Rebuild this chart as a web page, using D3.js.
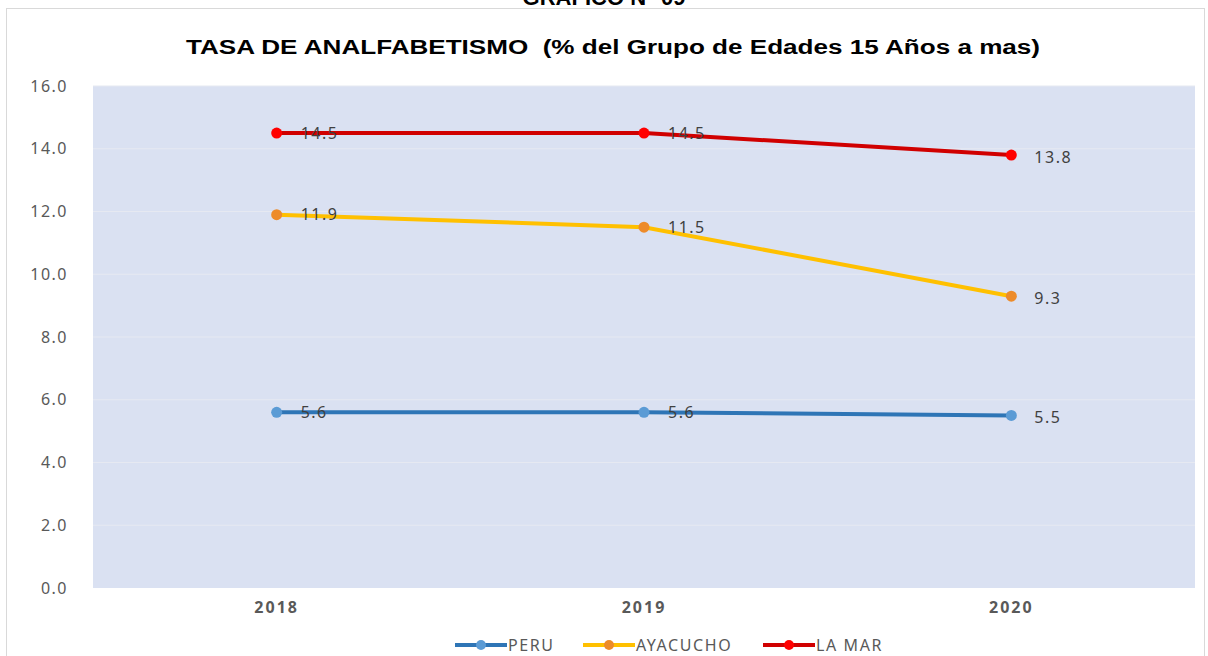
<!DOCTYPE html>
<html>
<head>
<meta charset="utf-8">
<script src="https://cdn.jsdelivr.net/npm/d3@7"></script>
<style>
  body { margin: 0; background: #fff; }
  svg { display: block; }
</style>
</head>
<body>
<div id="chart"></div>
<script>
var years = ["2018", "2019", "2020"];
var seriesNames = ["PERU", "AYACUCHO", "LA MAR"];
var peru = [5.6, 5.6, 5.5];
var ayacucho = [11.9, 11.5, 9.3];
var laMar = [14.5, 14.5, 13.8];
var yTicks = [0, 2, 4, 6, 8, 10, 12, 14, 16];

var lineColors = ["#2e75b6", "#ffc000", "#d00000"];
var dotColors = ["#5b9bd5", "#ed8b2a", "#ff0000"];

var fullwidth = 1208, fullheight = 656;
var margin = { top: 86, right: 13, bottom: 68, left: 93 };
var width = fullwidth - margin.left - margin.right;
var height = fullheight - margin.top - margin.bottom;

var root = d3.select("#chart").append("svg")
    .attr("width", fullwidth)
    .attr("height", fullheight);

// outer chart frame
root.append("rect")
    .attr("x", 6.5).attr("y", 8.5)
    .attr("width", 1198).attr("height", 670)
    .attr("fill", "#fff")
    .attr("stroke", "#d9d9d9");

// heading of the page, cut off at the top like in the source
root.append("text")
    .attr("x", 604).attr("y", 5)
    .attr("text-anchor", "middle")
    .style("font-family", "Liberation Sans, Arial, sans-serif")
    .style("font-weight", "bold")
    .style("font-size", "22px")
    .text("GRÁFICO N° 09");

root.append("text")
    .attr("x", 613).attr("y", 54)
    .attr("text-anchor", "middle")
    .attr("textLength", 854)
    .attr("lengthAdjust", "spacingAndGlyphs")
    .style("white-space", "pre")
    .style("font-family", "Liberation Sans, Arial, sans-serif")
    .style("font-weight", "bold")
    .style("font-size", "20px")
    .style("fill", "#000")
    .text("TASA DE ANALFABETISMO  (% del Grupo de Edades 15 Años a mas)");

var svg = root.append("g")
    .attr("transform", "translate(" + margin.left + "," + margin.top + ")");

var xScale = d3.scaleBand().domain(years).range([0, width]);
var yScale = d3.scaleLinear().domain([0, 16]).range([height, 0]);

svg.append("rect")
    .attr("width", width).attr("height", height)
    .attr("fill", "#dae1f2");

// gridlines
svg.selectAll("line.grid")
    .data(yTicks.slice(1))
    .enter().append("line")
    .attr("class", "grid")
    .attr("x1", 0).attr("x2", width)
    .attr("y1", function(d) { return yScale(d); })
    .attr("y2", function(d) { return yScale(d); })
    .attr("stroke", "#e6e9f2")
    .attr("stroke-width", 1.2);

var yAxis = d3.axisLeft(yScale)
    .tickValues(yTicks)
    .tickFormat(d3.format(".1f"))
    .tickSize(0)
    .tickPadding(25);

var yg = svg.append("g").call(yAxis);
yg.select(".domain").remove();
yg.selectAll("text")
    .style("font-family", "Noto Sans, sans-serif")
    .style("font-size", "16px")
    .style("letter-spacing", "1.5px")
    .style("fill", "#595959");

var xAxis = d3.axisBottom(xScale).tickSize(0).tickPadding(14);
var xg = svg.append("g")
    .attr("transform", "translate(0," + height + ")")
    .call(xAxis);
xg.select(".domain").remove();
xg.selectAll("text")
    .style("font-family", "Noto Sans, sans-serif")
    .style("font-size", "16px")
    .style("letter-spacing", "2px")
    .style("font-weight", "bold")
    .style("fill", "#595959");

var allSeries = [peru, ayacucho, laMar];

var line = d3.line()
    .x(function(d, i) { return xScale(years[i]) + xScale.bandwidth() / 2; })
    .y(function(d) { return yScale(d); });

allSeries.forEach(function(vals, s) {
    svg.append("path")
        .datum(vals)
        .attr("fill", "none")
        .attr("stroke", lineColors[s])
        .attr("stroke-width", 4)
        .attr("d", line);

    svg.selectAll("circle.s" + s)
        .data(vals)
        .enter().append("circle")
        .attr("class", "s" + s)
        .attr("cx", function(d, i) { return xScale(years[i]) + xScale.bandwidth() / 2; })
        .attr("cy", function(d) { return yScale(d); })
        .attr("r", 5.5)
        .attr("fill", dotColors[s]);

    svg.selectAll("text.lbl" + s)
        .data(vals)
        .enter().append("text")
        .attr("class", "lbl" + s)
        .attr("x", function(d, i) { return xScale(years[i]) + xScale.bandwidth() / 2 + (i == 2 ? 23 : 24); })
        .attr("y", function(d) { return yScale(d); })
        .attr("dy", function(d, i) { return i == 2 ? "0.5em" : "0.35em"; })
        .style("font-family", "Noto Sans, sans-serif")
        .style("font-size", "16px")
        .style("letter-spacing", "1.5px")
        .style("fill", "#404040")
        .text(function(d) { return d3.format(".1f")(d); });
});

// legend
var legendX = [455, 583, 763];
var legend = root.selectAll("g.legend")
    .data(seriesNames)
    .enter().append("g")
    .attr("class", "legend")
    .attr("transform", function(d, i) { return "translate(" + legendX[i] + ",645)"; });

legend.append("line")
    .attr("x1", 0).attr("x2", 52)
    .attr("stroke", function(d, i) { return lineColors[i]; })
    .attr("stroke-width", 4);
legend.append("circle")
    .attr("cx", 26).attr("r", 5)
    .attr("fill", function(d, i) { return dotColors[i]; });
legend.append("text")
    .attr("x", 53).attr("dy", "0.35em")
    .style("font-family", "Noto Sans, sans-serif")
    .style("font-size", "16px")
    .style("letter-spacing", "1.6px")
    .style("fill", "#595959")
    .text(function(d) { return d; });
</script>
</body>
</html>
